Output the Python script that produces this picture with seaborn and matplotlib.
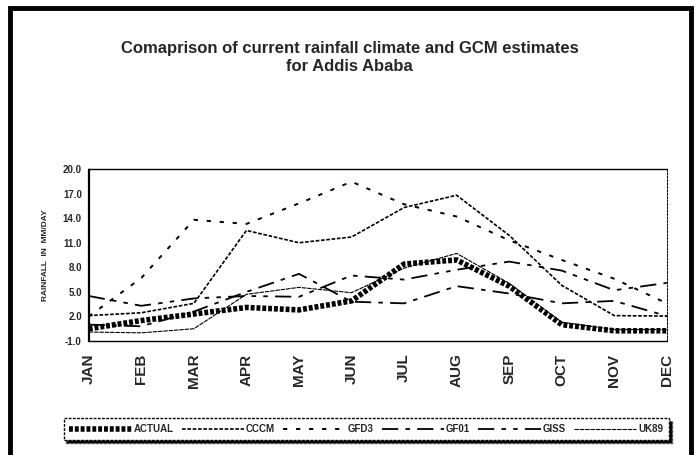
import seaborn as sns
import matplotlib.pyplot as plt
import pandas as pd
from matplotlib.patches import Rectangle
from matplotlib.ticker import MultipleLocator, FormatStrFormatter

months = ['JAN', 'FEB', 'MAR', 'APR', 'MAY', 'JUN', 'JUL', 'AUG', 'SEP', 'OCT', 'NOV', 'DEC']
actual = [0.5, 1.5, 2.3, 3.1, 2.8, 3.9, 8.4, 8.9, 5.7, 1.0, 0.25, 0.25]
cccm = [2.1, 2.45, 3.6, 12.5, 11.0, 11.7, 15.3, 16.8, 11.9, 5.8, 2.1, 2.05]
gfd3 = [2.0, 6.7, 13.8, 13.3, 15.8, 18.45, 15.7, 14.2, 11.3, 8.9, 6.6, 3.6]
gf01 = [1.0, 0.8, 2.6, 5.0, 7.2, 3.8, 3.6, 5.7, 4.8, 3.6, 3.9, 2.05]
giss = [4.5, 3.3, 4.2, 4.5, 4.4, 7.0, 6.5, 7.7, 8.7, 7.6, 5.2, 6.1]
uk89 = [0.1, 0.0, 0.5, 4.7, 5.55, 4.9, 7.9, 9.7, 6.05, 1.3, 0.4, 0.4]

series = {'ACTUAL': actual, 'CCCM': cccm, 'GFD3': gfd3,
          'GF01': gf01, 'GISS': giss, 'UK89': uk89}
styles = {
    'ACTUAL': (4.0, (0, (0.7, 0.35))),
    'CCCM': (1.2, (0, (2.2, 1.0))),
    'GFD3': (1.4, (0, (2.2, 4.5))),
    'GF01': (1.3, (0, (9, 4, 2.5, 4))),
    'GISS': (1.3, (0, (9, 4, 2.5, 4, 2.5, 4))),
    'UK89': (0.8, (0, (4, 0.8))),
}

rows = []
for name, vals in series.items():
    for i, m in enumerate(months):
        rows.append({'month': m, 'idx': i, 'model': name, 'rain': vals[i]})
df = pd.DataFrame(rows)

sns.set_style('white')
plt.rcParams['font.family'] = ['Liberation Sans', 'DejaVu Sans']
plt.rcParams['font.weight'] = 'bold'

fig = plt.figure(figsize=[6.99, 4.55], dpi=100)
ax = fig.add_axes([0.127, 0.2505, 0.827, 0.378])

handles = []
for name in series:
    lw, ls = styles[name]
    sns.lineplot(data=df[df['model'] == name], x='idx', y='rain', ax=ax,
                 color='black', linewidth=lw, linestyle=ls, legend=False)
    handles.append(ax.lines[-1])

ax.set_xlim(0, 11)
ax.set_ylim(-1, 20)
ax.set_xticks(range(12))
ax.set_xticklabels(months, rotation=90, fontsize=11, fontweight='bold')
ax.set_yticks([-1, 2, 5, 8, 11, 14, 17, 20])
ax.yaxis.set_major_formatter(FormatStrFormatter('%.1f'))
ax.yaxis.set_minor_locator(MultipleLocator(1))
ax.tick_params(axis='y', which='major', labelsize=7, length=3, width=1.2, direction='out', pad=2)
ax.tick_params(axis='y', which='minor', length=1.5, width=1)
ax.tick_params(axis='x', length=3, width=1, direction='out', pad=6)
for lab in ax.get_yticklabels():
    lab.set_fontweight('bold')
ax.set_xlabel('')
ax.set_ylabel('RAINFALL  IN  MM/DAY', fontsize=6, fontweight='bold', labelpad=10)

for side in ['top', 'bottom']:
    ax.spines[side].set_linestyle((0, (2, 1)))
    ax.spines[side].set_linewidth(1.0)
ax.spines['left'].set_linestyle((0, (2, 1)))
ax.spines['left'].set_linewidth(1.6)
ax.spines['right'].set_linestyle((0, (2, 1.5)))
ax.spines['right'].set_linewidth(0.7)
for s in ax.spines.values():
    s.set_color('black')

fig.text(0.5, 0.874, 'Comaprison of current rainfall climate and GCM estimates\nfor Addis Ababa',
         ha='center', va='center', fontsize=12, fontweight='bold', linespacing=1.25)

leg = fig.legend(handles, list(series.keys()), loc='center', bbox_to_anchor=(0.524, 0.057),
                 ncol=6, handlelength=6.4, handletextpad=0.2,
                 columnspacing=0.85, frameon=True, fancybox=False,
                 shadow={'facecolor': 'black', 'alpha': 1.0},
                 borderpad=0.6, prop={'weight': 'bold', 'size': 7})
frame = leg.get_frame()
frame.set_edgecolor('black')
frame.set_linestyle((0, (2, 1)))
frame.set_linewidth(1.0)

fig.patches.append(Rectangle((0.014, -0.1), 0.975, 1.083, transform=fig.transFigure,
                             fill=False, edgecolor='black', linewidth=3.5))

fig.savefig('out.png', dpi=100)
